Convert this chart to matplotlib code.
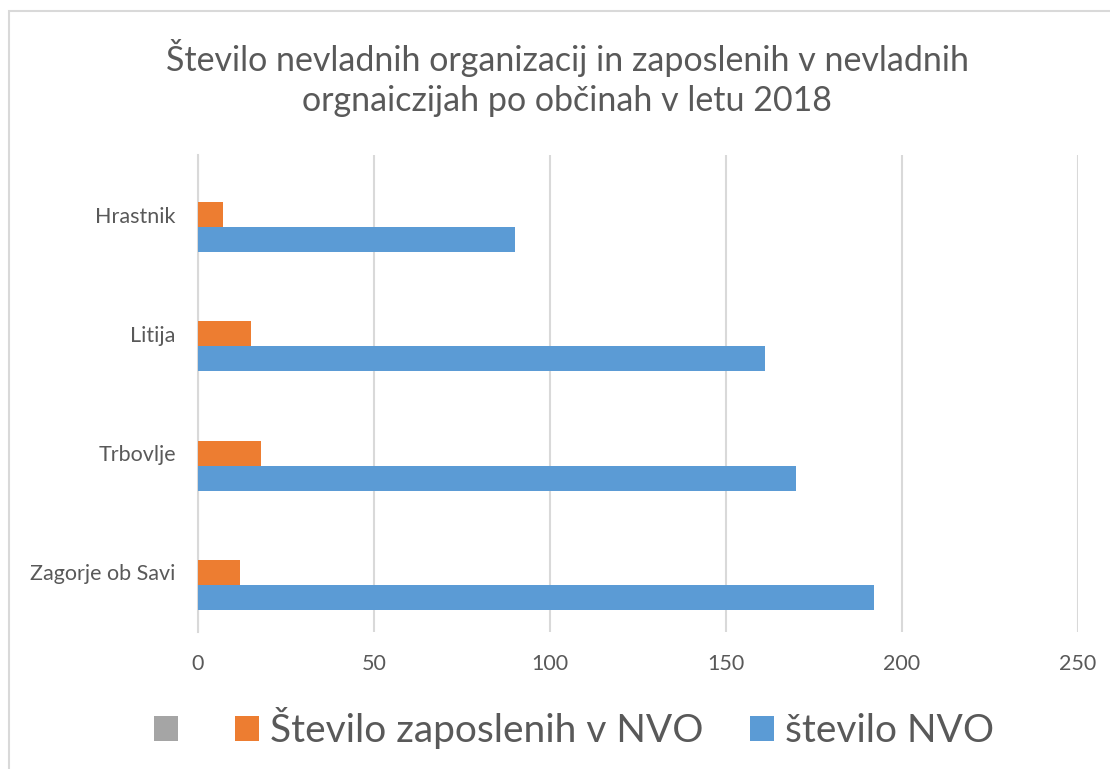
import matplotlib
matplotlib.use("Agg")
import matplotlib.pyplot as plt
from matplotlib.patches import Rectangle, Patch
import numpy as np

# data
obcine = ["Hrastnik", "Litija", "Trbovlje", "Zagorje ob Savi"]
zaposleni_nvo = [7, 15, 18, 12]
stevilo_nvo = [90, 161, 170, 192]
prazna_serija = [0, 0, 0, 0]
serije = ["", "Število zaposlenih v NVO", "število NVO"]
x_ticks = [0, 50, 100, 150, 200, 250]
naslov = "Število nevladnih organizacij in zaposlenih v nevladnih\norgnaiczijah po občinah v letu 2018"

TEXT = "#595959"
GRID = "#D9D9D9"
barve = ["#A5A5A5", "#ED7D31", "#5B9BD5"]

plt.rcParams["font.family"] = ["Lato", "DejaVu Sans"]

fig = plt.figure(figsize=(11.1, 7.69), dpi=100)
fig.patch.set_facecolor("white")

# outer chart border (cut at right/bottom like the screenshot)
fig.patches.append(Rectangle((9 / 1110, -0.05), 1.1, 1 - 11 / 769 + 0.05,
                             transform=fig.transFigure, fill=False,
                             edgecolor=GRID, lw=1.5))

ax = fig.add_axes([198 / 1110, 137 / 769, 880 / 1110, 477 / 769])

y = np.arange(len(obcine))[::-1].astype(float)
h = 0.21
ax.barh(y + h, prazna_serija, height=h, color=barve[0], lw=0)
ax.barh(y, zaposleni_nvo, height=h, color=barve[1], lw=0)
ax.barh(y - h, stevilo_nvo, height=h, color=barve[2], lw=0)

ax.set_xlim(0, 250)
ax.set_ylim(-0.5, len(obcine) - 0.5)
ax.set_xticks(x_ticks)
ax.set_yticks(y)
ax.set_yticklabels(obcine)
ax.tick_params(axis="both", length=0, labelsize=15.5, colors=TEXT)
ax.tick_params(axis="x", pad=16)
ax.tick_params(axis="y", pad=16)
ax.grid(axis="x", color=GRID, lw=1.5)
ax.set_axisbelow(True)
for s in ["top", "right", "bottom"]:
    ax.spines[s].set_visible(False)
ax.spines["left"].set_color(GRID)
ax.spines["left"].set_linewidth(1.5)
ax.spines["left"].set_zorder(0.5)

fig.text(0.511, 1 - 78 / 769, naslov, ha="center", va="center", fontsize=24.5,
         color=TEXT, linespacing=1.3)

handles = [Patch(facecolor=c, edgecolor="none") for c in barve]
fig.legend(handles, serije, loc="center", bbox_to_anchor=(574 / 1110, 0.053),
           ncol=3, frameon=False, fontsize=28, labelcolor=TEXT,
           handlelength=0.62, handleheight=0.62, handletextpad=0.28,
           columnspacing=1.2)

fig.savefig("out.png", dpi=100)
